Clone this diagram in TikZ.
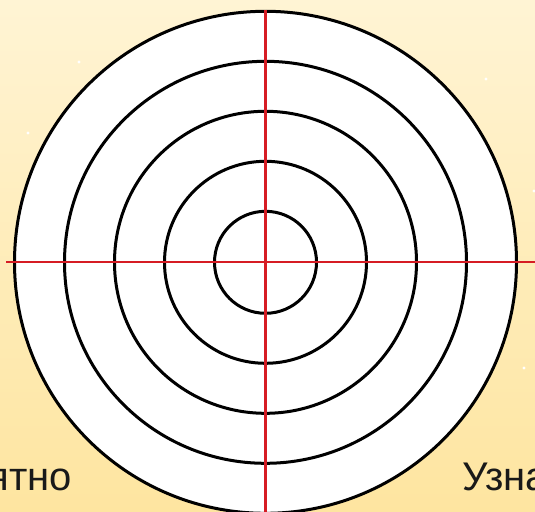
\documentclass[tikz,border=0pt]{standalone}
\usepackage{fontspec}
\setmainfont{Liberation Sans}
\definecolor{bgtop}{RGB}{255,244,212}
\definecolor{bgbot}{RGB}{254,229,160}
\definecolor{cross}{RGB}{214,28,36}
\definecolor{txt}{RGB}{25,25,25}
\tikzset{
  ring/.style={draw=black,line width=3pt},
  crossline/.style={draw=cross,line width=2.2pt},
  label/.style={font=\fontsize{40}{40}\selectfont,text=txt,inner sep=0pt},
  sparkle/.style={fill=white}
}
\begin{document}
\begin{tikzpicture}[x=1pt,y=-1pt]
\useasboundingbox (0,0) rectangle (535,511);
\clip (0,0) rectangle (535,511);
\shade[top color=bgtop,bottom color=bgbot] (0,0) rectangle (535,511);
\foreach \p in {(79,62),(486,79),(524,368),(28,133),(534,191)}
  \fill[sparkle] \p circle (1.6);
\coordinate (c) at (265.5,262.3);
\fill[white] (c) circle (251);
\foreach \r in {251,201,151,101,51}
  \draw[ring] (c) circle (\r);
\coordinate (vt) at (265.5,10);
\coordinate (vb) at (265.5,515);
\coordinate (hl) at (6,262.3);
\coordinate (hr) at (540,262.3);
\draw[crossline] (vt) -- (vb);
\draw[crossline] (hl) -- (hr);
\node[label,anchor=base east] (left) at (72,490) {ятно};
\node[label,anchor=base west] (right) at (462,490) {Узна};
\end{tikzpicture}
\end{document}
